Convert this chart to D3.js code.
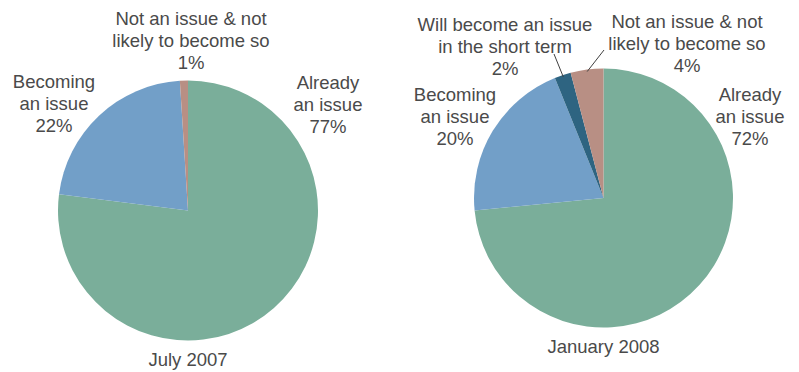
<!DOCTYPE html>
<html>
<head>
<meta charset="utf-8">
<script src="https://cdn.jsdelivr.net/npm/d3@7"></script>
<style>
  html, body { margin: 0; padding: 0; background: #fff; }
  svg text { font-family: "Liberation Sans", Arial, sans-serif; fill: #4a4a4a; }
</style>
</head>
<body>
<svg id="chart" width="799" height="372"></svg>
<script>
// Survey responses, July 2007 and January 2008
const categories2007 = ["Already an issue", "Becoming an issue", "Not an issue & not likely to become so"];
const values2007 = [77, 22, 1];

const categories2008 = ["Already an issue", "Becoming an issue", "Will become an issue in the short term", "Not an issue & not likely to become so"];
const values2008 = [72, 20, 2, 4];

const chartTitles = ["July 2007", "January 2008"];

const colorByCategory = {
  "Already an issue": "#7aae9a",
  "Becoming an issue": "#729fc8",
  "Will become an issue in the short term": "#2e6481",
  "Not an issue & not likely to become so": "#b88f84"
};

// Label text lines per category
const labelLines = {
  "Already an issue": ["Already", "an issue"],
  "Becoming an issue": ["Becoming", "an issue"],
  "Will become an issue in the short term": ["Will become an issue", "in the short term"],
  "Not an issue & not likely to become so": ["Not an issue & not", "likely to become so"]
};

const svg = d3.select("#chart");
const fontSize = 18.5;
const lineH = 22;

function drawPie(opts) {
  const { cats, vals, cx, cy, r, title, titleY, labels } = opts;
  const data = cats.map((c, i) => ({ cat: c, value: vals[i] }));
  const pie = d3.pie().value(d => d.value).sort(null);
  const arc = d3.arc().innerRadius(0).outerRadius(r);
  const arcs = pie(data);

  const g = svg.append("g").attr("transform", `translate(${cx},${cy})`);
  g.selectAll("path.slice")
    .data(arcs)
    .join("path")
    .attr("class", "slice")
    .attr("d", arc)
    .attr("fill", d => colorByCategory[d.data.cat]);

  // Labels: category text lines followed by the percentage
  arcs.forEach(a => {
    const p = labels[a.data.cat];
    const lines = labelLines[a.data.cat].concat([a.data.value + "%"]);
    const t = svg.append("text")
      .attr("text-anchor", "middle")
      .attr("font-size", fontSize)
      .attr("x", p.x)
      .attr("y", p.y);
    lines.forEach((ln, i) => {
      t.append("tspan").attr("x", p.x).attr("y", p.y + i * lineH).text(ln);
    });
    if (p.leader) {
      const mid = (a.startAngle + a.endAngle) / 2;
      const sx = cx + Math.sin(mid) * (r - 2);
      const sy = cy - Math.cos(mid) * (r - 2);
      svg.append("line")
        .attr("x1", sx).attr("y1", sy)
        .attr("x2", p.leader.x).attr("y2", p.leader.y)
        .attr("stroke", "#404040")
        .attr("stroke-width", 1);
    }
  });

  svg.append("text")
    .attr("text-anchor", "middle")
    .attr("font-size", fontSize)
    .attr("x", cx)
    .attr("y", titleY)
    .text(title);
}

drawPie({
  cats: categories2007, vals: values2007,
  cx: 188, cy: 210.5, r: 130,
  title: chartTitles[0], titleY: 366,
  labels: {
    "Already an issue": { x: 328, y: 89 },
    "Becoming an issue": { x: 54, y: 88 },
    "Not an issue & not likely to become so": { x: 191, y: 25 }
  }
});

drawPie({
  cats: categories2008, vals: values2008,
  cx: 603.5, cy: 198, r: 129.5,
  title: chartTitles[1], titleY: 353,
  labels: {
    "Already an issue": { x: 750, y: 101 },
    "Becoming an issue": { x: 455, y: 101 },
    "Will become an issue in the short term": { x: 505, y: 31, leader: { x: 554, y: 54 } },
    "Not an issue & not likely to become so": { x: 687, y: 28, leader: { x: 604, y: 50 } }
  }
});
</script>
</body>
</html>
